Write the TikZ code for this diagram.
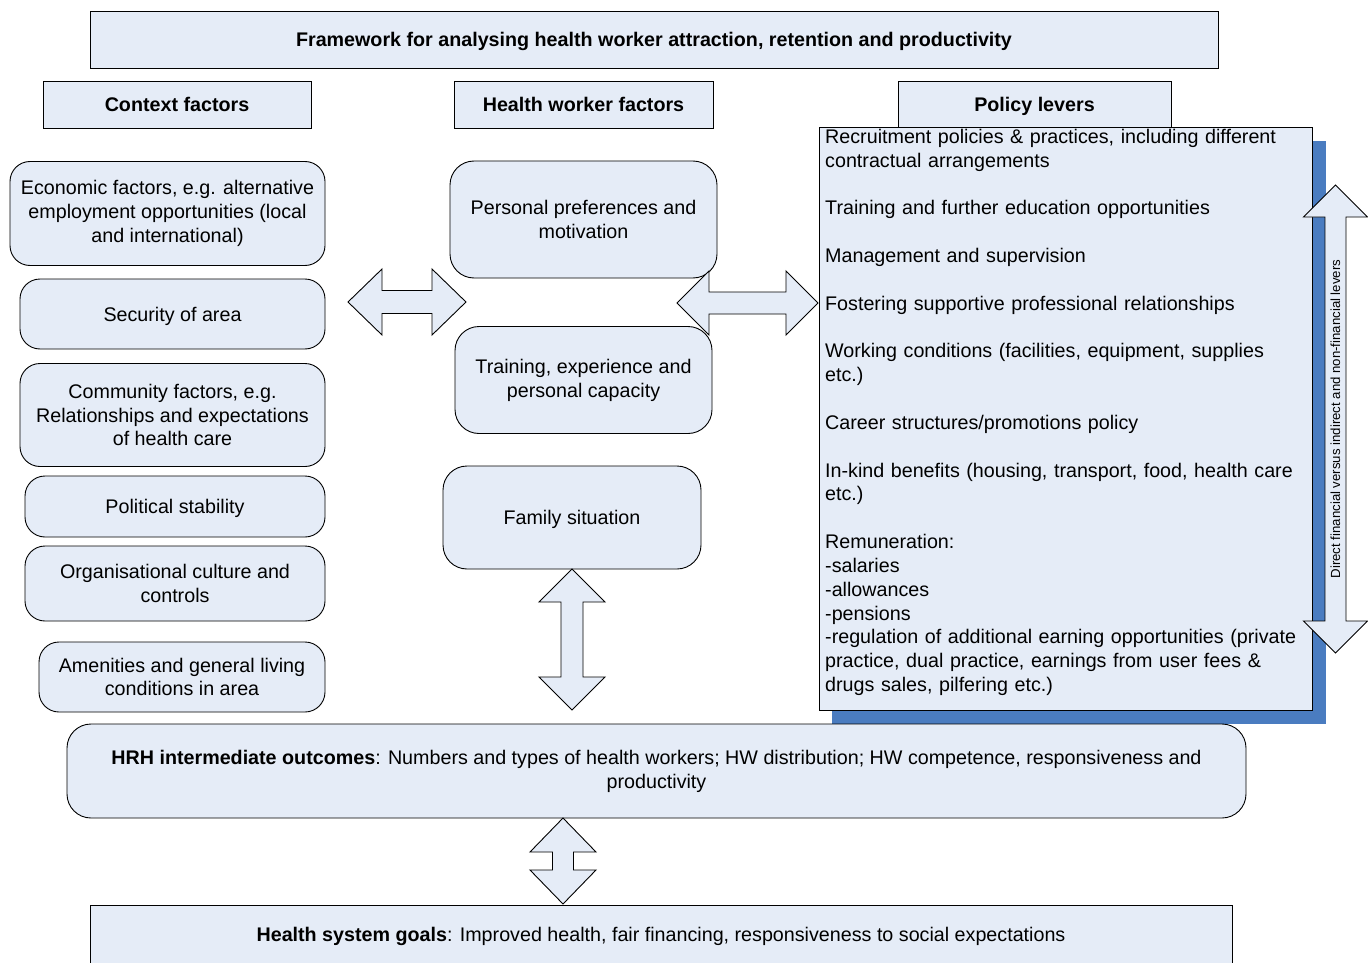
\documentclass[tikz,border=0pt]{standalone}
\usepackage{fontspec}
\setmainfont{Liberation Sans}
\usetikzlibrary{calc}
\definecolor{boxfill}{RGB}{229,236,247}
\definecolor{shadowblue}{RGB}{74,124,192}
\newcommand\hdblarrow[5]{% L R h H s
  \draw[dbl] (#1) -- ($(#1)+(#3,-#4)$) -- ($(#1)+(#3,-#5)$) -- ($(#2)+(-#3,-#5)$) -- ($(#2)+(-#3,-#4)$) -- (#2)
    -- ($(#2)+(-#3,#4)$) -- ($(#2)+(-#3,#5)$) -- ($(#1)+(#3,#5)$) -- ($(#1)+(#3,#4)$) -- cycle;}
\newcommand\vdblarrow[5]{% T B h H s
  \draw[dbl] (#1) -- ($(#1)+(#4,#3)$) -- ($(#1)+(#5,#3)$) -- ($(#2)+(#5,-#3)$) -- ($(#2)+(#4,-#3)$) -- (#2)
    -- ($(#2)+(-#4,-#3)$) -- ($(#2)+(-#5,-#3)$) -- ($(#1)+(-#5,#3)$) -- ($(#1)+(-#4,#3)$) -- cycle;}
\begin{document}
\begin{tikzpicture}[x=1pt,y=-1pt,
  every node/.style={font=\fontsize{19.7}{23.83}\selectfont, inner sep=0pt, align=center},
  one/.style={text height=14.1pt, text depth=0pt},
  hdr/.style={draw, fill=boxfill, line width=0.9pt},
  rbox/.style={draw, fill=boxfill, rounded corners=20pt, line width=0.9pt},
  dbl/.style={draw, fill=boxfill, line width=0.9pt, line join=miter}]
\useasboundingbox (0,0) rectangle (1368,963);
\fill[white] (0,0) rectangle (1368,963);

% headers
\node[hdr, one, minimum width=1128pt, minimum height=57pt] (title) at (654,39.5)
  {\bfseries Framework for analysing health worker attraction, retention and productivity};
\node[hdr, one, minimum width=268pt, minimum height=47pt] (context) at (177,104.5) {\bfseries Context factors};
\node[hdr, one, minimum width=259pt, minimum height=47pt] (hwf) at (583.5,104.5) {\bfseries Health worker factors};
\node[hdr, one, minimum width=273pt, minimum height=46pt] (polhdr) at (1034.5,104) {\bfseries Policy levers};

% context factors
\node[rbox, minimum width=315pt, minimum height=104pt] (econ) at (167.5,213.5)
  {Economic factors, e.g. alternative\\employment opportunities (local\\and international)};
\node[rbox, one, minimum width=305pt, minimum height=70pt] (sec) at (172.5,314) {Security of area};
\node[rbox, minimum width=305pt, minimum height=103pt] (comm) at (172.5,415)
  {Community factors, e.g.\\Relationships and expectations\\of health care};
\node[rbox, one, minimum width=300pt, minimum height=61pt] (pol) at (175,506.5) {Political stability};
\node[rbox, minimum width=300pt, minimum height=75pt] (org) at (175,583.5)
  {Organisational culture and\\controls};
\node[rbox, minimum width=286pt, minimum height=70pt] (amen) at (182,677)
  {Amenities and general living\\conditions in area};

% health worker factors
\node[rbox, rounded corners=24pt, minimum width=267pt, minimum height=117pt] (pers) at (583.5,219.5)
  {Personal preferences and\\motivation};
\node[rbox, rounded corners=24pt, minimum width=257pt, minimum height=107pt] (train) at (583.5,380)
  {Training, experience and\\personal capacity};
\node[rbox, one, rounded corners=24pt, minimum width=258pt, minimum height=103pt] (fam) at (572,517.5)
  {Family situation};

% policy levers
\fill[shadowblue] (832,141) rectangle (1326,724);
\node[hdr, minimum width=493pt, minimum height=583pt] (policy) at (1065.5,418.5) {};
\node[anchor=base west, text width=485pt, align=left] (ptext) at (825,143.5)
  {Recruitment policies \& practices, including different\\
   contractual arrangements\\[23.83pt]
   Training and further education opportunities\\[23.83pt]
   Management and supervision\\[23.83pt]
   Fostering supportive professional relationships\\[23.83pt]
   Working conditions (facilities, equipment, supplies\\
   etc.)\\[23.83pt]
   Career structures/promotions policy\\[23.83pt]
   In-kind benefits (housing, transport, food, health care\\
   etc.)\\[23.83pt]
   Remuneration:\\
   -salaries\\
   -allowances\\
   -pensions\\
   -regulation of additional earning opportunities (private\\
   practice, dual practice, earnings from user fees \&\\
   drugs sales, pilfering etc.)};

% outcomes
\node[rbox, rounded corners=24pt, minimum width=1179pt, minimum height=94pt] (hrh) at (656.5,771)
  {\textbf{HRH intermediate outcomes}: Numbers and types of health workers; HW distribution; HW competence, responsiveness and\\productivity};
\node[hdr, one, minimum width=1142pt, minimum height=59pt] (goals) at (661,934.5)
  {\textbf{Health system goals}: Improved health, fair financing, responsiveness to social expectations};

% block double arrows
\coordinate (a1l) at (348,302);  \coordinate (a1r) at (466,302);
\coordinate (a2l) at (677,303);  \coordinate (a2r) at (818,303);
\coordinate (a3t) at (572,569);  \coordinate (a3b) at (572,710);
\coordinate (a4t) at (563,818);  \coordinate (a4b) at (563,904);
\coordinate (a5t) at (1335.5,185); \coordinate (a5b) at (1335.5,653);
\hdblarrow{a1l}{a1r}{34}{33}{11.5}
\hdblarrow{a2l}{a2r}{32}{32}{11}
\vdblarrow{a3t}{a3b}{33}{33}{11}
\vdblarrow{a4t}{a4b}{34}{33}{10.5}
\vdblarrow{a5t}{a5b}{32}{32}{10.5}
\node[rotate=90, font=\fontsize{13.2}{15.8}\selectfont] (levers) at (1335.5,419)
  {Direct financial versus indirect and non-financial levers};
\end{tikzpicture}
\end{document}
